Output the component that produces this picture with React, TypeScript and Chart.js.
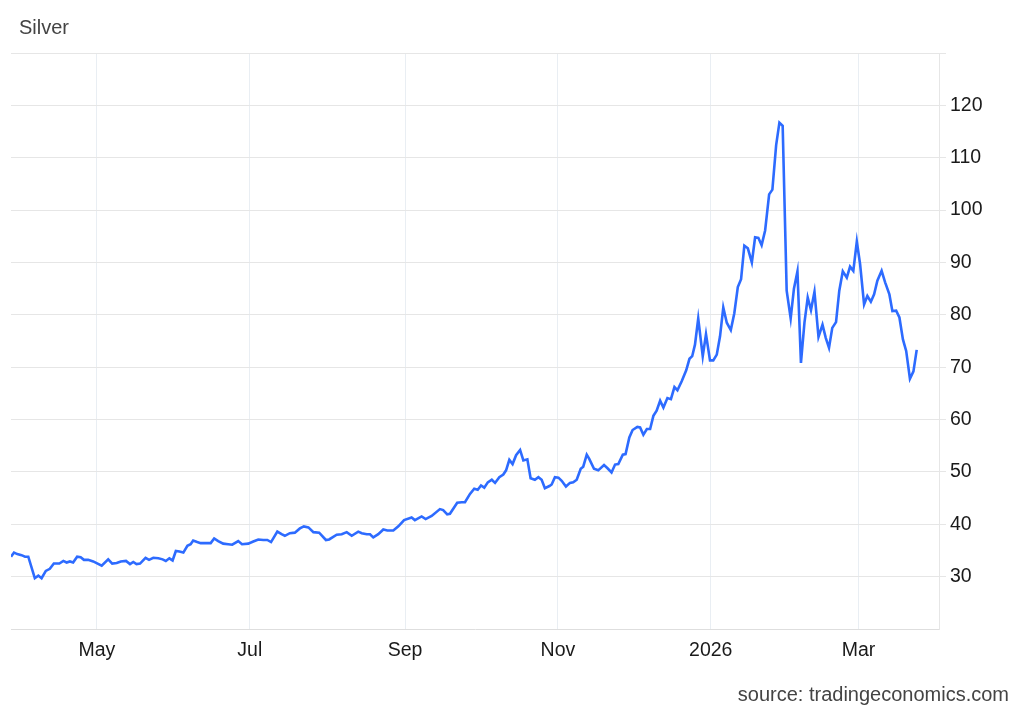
import React, { useEffect, useRef } from "react";
import { Chart, registerables } from "chart.js";

Chart.register(...registerables);

// Day of year counted from 2025-01-01 (day 0), so 365 = 2026-01-01
const days: number[] = [
  85.7, 86.9, 88.2, 89.9, 91.3, 92.6, 95.2, 96.6, 97.9, 99.6, 101.2, 102.8, 105.0, 106.6, 107.9, 109.2,
  110.5, 112.1, 113.5, 114.8, 116.5, 118.5, 121.9, 124.5, 126.1, 127.9, 129.5, 131.6, 133.2, 134.5, 135.8,
  137.2, 139.4, 140.8, 142.5, 144.5, 146.2, 147.5, 148.9, 150.2, 151.5, 152.9, 154.5, 156.1, 157.4, 158.4,
  160.0, 161.4, 163.1, 165.4, 166.8, 168.4, 170.4, 172.4, 174.0, 176.4, 177.9, 180.4,
  182.4, 184.4, 186.4, 188.0, 189.5, 192.0, 193.7, 195.0, 197.0, 199.0, 201.0, 202.6, 204.4, 206.4, 208.7,
  211.4, 212.7, 215.7, 217.7, 219.7, 221.7, 224.3, 225.7, 227.7, 229.0, 230.3, 232.3, 234.3, 235.9, 238.3,
  240.3, 242.6, 245.6, 246.9, 249.6, 251.2, 253.6, 256.9, 258.2, 259.8, 260.9, 263.8, 265.6, 266.9,
  268.9, 270.6, 272.0, 273.3, 274.6, 276.0, 277.6, 278.9, 280.6, 282.2, 283.3, 284.6, 285.9, 287.3, 288.9,
  290.2, 291.8, 293.1, 294.8, 296.2, 297.5, 298.8, 300.6, 301.5, 302.8, 304.2, 305.5, 307.2, 308.8, 310.1,
  311.5, 313.1, 314.1, 315.5, 316.5, 318.4, 320.1, 322.4, 323.8, 325.4, 326.8, 328.1, 329.9, 331.0, 332.5,
  333.8, 335.7, 336.8, 338.1, 339.5, 340.8, 342.1, 343.4, 344.8, 346.1, 347.7, 349.1, 350.5, 351.7, 353.4,
  355.2, 356.5,
  357.6, 358.7, 360.0, 361.8, 363.1, 364.7, 366.0, 367.4, 368.7, 370.0, 371.4, 373.0, 374.4, 375.8, 377.1,
  378.4, 379.8, 381.4, 382.7, 384.0, 385.3, 386.7, 388.3, 389.6, 391.1, 392.4, 393.7, 395.3, 396.9, 398.2,
  399.6, 401.0, 402.4, 403.7, 405.0, 406.4, 408.0, 409.6, 410.9, 412.2, 413.5, 415.0, 416.3, 417.7, 419.3,
  420.6, 421.9, 423.3, 424.6, 426.2, 427.5, 428.9, 430.2, 431.5, 433.2, 434.6, 436.3, 437.5, 439.0, 440.3,
  441.7, 443.0, 444.5, 445.9, 447.2,
];

const prices: number[] = [
  33.8, 34.6, 34.3, 34.1, 33.8, 33.8, 29.7, 30.2, 29.7, 31.1, 31.5, 32.5, 32.5, 33.0, 32.7, 32.9,
  32.7, 33.8, 33.7, 33.2, 33.2, 32.9, 32.1, 33.3, 32.5, 32.6, 32.9, 33.0, 32.4, 32.8, 32.4,
  32.5, 33.6, 33.2, 33.6, 33.5, 33.3, 33.0, 33.5, 33.1, 34.9, 34.8, 34.6, 35.9, 36.2, 36.9,
  36.6, 36.4, 36.4, 36.4, 37.3, 36.8, 36.3, 36.2, 36.1, 36.8, 36.2, 36.3,
  36.7, 37.1, 37.0, 37.0, 36.6, 38.6, 38.1, 37.8, 38.3, 38.4, 39.2, 39.6, 39.4, 38.5, 38.4,
  37.0, 37.1, 38.0, 38.1, 38.5, 37.8, 38.6, 38.3, 38.1, 38.1, 37.5, 38.1, 39.0, 38.8, 38.8,
  39.6, 40.8, 41.3, 40.8, 41.5, 41.0, 41.6, 42.9, 42.7, 41.9, 42.0, 44.1, 44.2, 44.2,
  45.8, 46.8, 46.6, 47.4, 47.0, 48.0, 48.5, 47.9, 49.0, 49.5, 50.3, 52.3, 51.5, 53.2, 54.2,
  52.2, 52.4, 48.8, 48.5, 49.0, 48.5, 46.9, 47.3, 47.6, 49.0, 48.9, 48.3, 47.2, 47.9, 48.0,
  48.5, 50.6, 51.0, 53.3, 52.5, 50.6, 50.3, 51.3, 50.7, 49.9, 51.4, 51.5, 53.3, 53.4, 56.6,
  58.0, 58.6, 58.5, 57.1, 58.2, 58.2, 60.7, 61.7, 63.6, 62.3, 64.1, 63.9, 66.2, 65.6, 67.3,
  69.4, 71.6,
  72.1, 74.3, 79.3, 72.1, 76.3, 71.3, 71.3, 72.4, 75.9, 81.4, 78.5, 77.1, 80.3, 85.3, 86.8,
  93.2, 92.7, 90.0, 94.8, 94.7, 93.3, 96.1, 103.0, 103.9, 112.4, 116.7, 116.1, 84.6, 79.3, 85.0,
  88.3, 70.8, 78.5, 83.3, 80.9, 84.4, 75.8, 78.1, 75.6, 73.7, 77.5, 78.6, 84.6, 88.3, 87.1,
  89.2, 88.4, 94.0, 89.7, 82.0, 83.6, 82.5, 83.9, 86.5, 88.4, 86.2, 83.9, 80.7, 80.8, 79.5,
  75.3, 73.1, 67.8, 69.2, 73.3,
];

const tickDays: number[] = [120, 181, 243, 304, 365, 424];
const tickLabels: string[] = ["May", "Jul", "Sep", "Nov", "2026", "Mar"];
const yMin = 20;
const yMax = 130;
const yStep = 10;

const titleText = "Silver";
const sourceText = "source: tradingeconomics.com";

const FONT_FAMILY = "'Liberation Sans', Arial, sans-serif";

const textPlugin = {
  id: "textPlugin",
  afterDraw(chart: any) {
    const ctx = chart.ctx;
    ctx.save();
    ctx.font = `20px ${FONT_FAMILY}`;
    ctx.fillStyle = "#444444";
    ctx.textBaseline = "alphabetic";
    ctx.textAlign = "left";
    ctx.fillText(titleText, 19, 34);
    ctx.textAlign = "right";
    ctx.fillText(sourceText, 1009, 701);
    ctx.restore();
  },
};

export default function App() {
  const ref = useRef<HTMLCanvasElement>(null);

  useEffect(() => {
    if (!ref.current) return;
    const chart = new Chart(ref.current, {
      type: "line",
      data: {
        datasets: [
          {
            data: days.map((d, i) => ({ x: d, y: prices[i] })),
            borderColor: "#2d6bff",
            borderWidth: 2.6,
            pointRadius: 0,
            tension: 0,
            fill: false,
          },
        ],
      },
      options: {
        animation: false,
        responsive: false,
        maintainAspectRatio: false,
        layout: { padding: { top: 53, left: 11, right: 0, bottom: 0 } },
        plugins: {
          legend: { display: false },
          tooltip: { enabled: false },
          title: { display: false },
        },
        scales: {
          x: {
            type: "linear",
            min: days[0],
            max: 456.1,
            afterBuildTicks: (scale: any) => {
              scale.ticks = tickDays.map((v) => ({ value: v }));
            },
            afterFit: (scale: any) => {
              scale.height = 81;
            },
            ticks: {
              autoSkip: false,
              maxRotation: 0,
              padding: 10,
              color: "#1a1a1a",
              font: { family: FONT_FAMILY, size: 19.5 },
              callback: (v: any) => {
                const i = tickDays.indexOf(Number(v));
                return i >= 0 ? tickLabels[i] : "";
              },
            },
            grid: { color: "#e9eef3", drawTicks: false, lineWidth: 1 },
            border: { display: true, color: "#dedede", width: 1 },
          },
          y: {
            position: "right",
            min: yMin,
            max: yMax,
            afterFit: (scale: any) => {
              scale.width = 85;
            },
            ticks: {
              stepSize: yStep,
              padding: 4,
              color: "#1a1a1a",
              font: { family: FONT_FAMILY, size: 19.5 },
              callback: (v: any) => (Number(v) === yMin || Number(v) === yMax ? "" : String(v)),
            },
            grid: {
              color: (c: any) => (c.tick && c.tick.value === yMin ? "rgba(0,0,0,0)" : "#e6e6e6"),
              tickLength: 7,
              lineWidth: 1,
            },
            border: { display: true, color: "#e6e6e6", width: 1 },
          },
        },
      },
      plugins: [textPlugin],
    } as any);
    return () => chart.destroy();
  }, []);

  return (
    <div style={{ position: "absolute", left: 0, top: 0, width: 1024, height: 710, background: "#ffffff" }}>
      <canvas ref={ref} width={1024} height={710} style={{ width: 1024, height: 710, display: "block" }} />
    </div>
  );
}
